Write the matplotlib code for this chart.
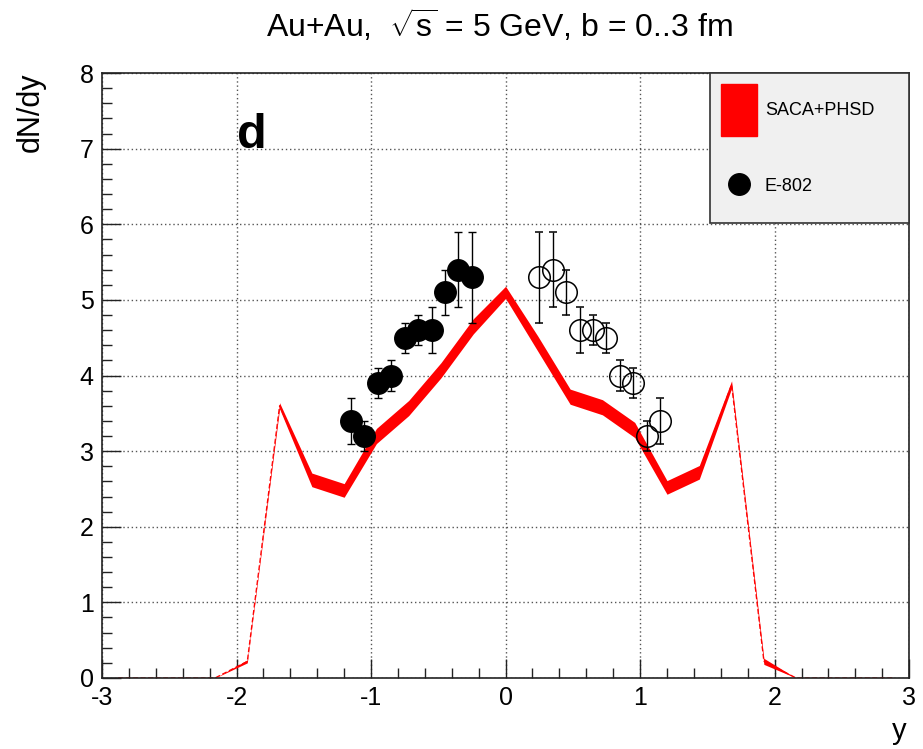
import matplotlib.pyplot as plt
from matplotlib.patches import Patch
from matplotlib.lines import Line2D
from matplotlib.legend_handler import HandlerLine2D
from matplotlib.ticker import MultipleLocator
import numpy as np

plt.rcParams['font.family'] = ['Liberation Sans', 'DejaVu Sans']
plt.rcParams['mathtext.fontset'] = 'custom'
plt.rcParams['mathtext.rm'] = 'Liberation Sans'
plt.rcParams['mathtext.it'] = 'Liberation Sans'
plt.rcParams['axes.unicode_minus'] = False

# SACA+PHSD band (centre and half width)
band_y = [-2.88, -2.64, -2.40, -2.16, -1.92, -1.68, -1.44, -1.20, -0.96, -0.72, -0.48, -0.24, 0.0,
          0.24, 0.48, 0.72, 0.96, 1.20, 1.44, 1.68, 1.92, 2.16, 2.40, 2.64, 2.88]
band_mid = [0, 0, 0, 0, 0.22, 3.60, 2.62, 2.48, 3.20, 3.57, 4.07, 4.65, 5.10,
            4.42, 3.72, 3.58, 3.28, 2.52, 2.72, 3.88, 0.22, 0, 0, 0, 0]
band_half = [0, 0, 0, 0, 0.02, 0.04, 0.09, 0.09, 0.10, 0.10, 0.10, 0.10, 0.08,
             0.10, 0.10, 0.10, 0.10, 0.09, 0.09, 0.05, 0.04, 0, 0, 0, 0]

# E-802 data (measured, y<0) and reflected (y>0)
e802_y = [-1.15, -1.05, -0.95, -0.85, -0.75, -0.65, -0.55, -0.45, -0.35, -0.25]
e802_dndy = [3.4, 3.2, 3.9, 4.0, 4.5, 4.6, 4.6, 5.1, 5.4, 5.3]
e802_err = [0.3, 0.2, 0.2, 0.2, 0.2, 0.2, 0.3, 0.3, 0.5, 0.6]

refl_y = [0.25, 0.35, 0.45, 0.55, 0.65, 0.75, 0.85, 0.95, 1.05, 1.15]
refl_dndy = [5.3, 5.4, 5.1, 4.6, 4.6, 4.5, 4.0, 3.9, 3.2, 3.4]
refl_err = [0.6, 0.5, 0.3, 0.3, 0.2, 0.2, 0.2, 0.2, 0.2, 0.3]


class CentredMarker(HandlerLine2D):
    # put the legend marker at the middle of its box, like the red patch
    def create_artists(self, legend, orig_handle, xdescent, ydescent, width, height, fontsize, trans):
        arts = super().create_artists(legend, orig_handle, xdescent, ydescent, width, height, fontsize, trans)
        for a in arts:
            a.set_ydata(np.full(len(a.get_ydata()), height / 2 - ydescent + 1.5))
        return arts


fig = plt.figure(figsize=(9.23, 7.49), dpi=100)
ax = fig.add_axes([0.1105, 0.0948, 0.8745, 0.8077])

mid = np.array(band_mid)
half = np.array(band_half)
ax.fill_between(band_y, mid - half, mid + half, color='red', lw=0, zorder=2)
ax.plot(band_y, mid, color='red', lw=0.9, ls=(0, (4, 2)), zorder=2)

ax.errorbar(e802_y, e802_dndy, yerr=e802_err, fmt='o', color='black', ms=15.5,
            elinewidth=1, capsize=3, capthick=1, zorder=3)
ax.errorbar(refl_y, refl_dndy, yerr=refl_err, fmt='o', color='black', mfc='none', ms=15.5,
            mew=1.1, elinewidth=1, capsize=3, capthick=1, zorder=3)

ax.set_xlim(-3, 3)
ax.set_ylim(0, 8)
ax.xaxis.set_major_locator(MultipleLocator(1))
ax.xaxis.set_minor_locator(MultipleLocator(0.2))
ax.yaxis.set_major_locator(MultipleLocator(1))
ax.yaxis.set_minor_locator(MultipleLocator(0.2))
ax.tick_params(which='both', direction='in', top=False, right=False, labelsize=18, color='#222222')
ax.tick_params(which='major', length=14, width=1, pad=6)
ax.tick_params(which='minor', length=7, width=1)
ax.grid(which='major', color='#555555', ls=(0, (1, 2)), lw=1)
for s in ax.spines.values():
    s.set_color('#222222')
    s.set_linewidth(1.2)

fig.text(0.541, 0.966, r'Au+Au,  $\sqrt{s}$ = 5 GeV, b = 0..3 fm', ha='center', va='center', fontsize=23)
fig.text(0.033, 0.903, 'dN/dy', rotation=90, ha='center', va='top', fontsize=22)
fig.text(0.982, 0.006, 'y', ha='right', va='bottom', fontsize=21)
ax.text(0.167, 0.876, 'd', transform=ax.transAxes, fontsize=35, fontweight='bold', ha='left', va='baseline')

handles = [Patch(facecolor='red', edgecolor='red'),
           Line2D([], [], marker='o', color='black', ls='none', ms=15.5)]
leg = ax.legend(handles, ['SACA+PHSD', 'E-802'], loc='upper left',
                bbox_to_anchor=(0.753, 0.749, 0.247, 0.251), mode='expand', borderaxespad=0,
                fontsize=13, handlelength=2.0, handleheight=4.05, handletextpad=0.45,
                labelspacing=1.33, borderpad=0.6, fancybox=False, framealpha=1,
                handler_map={Line2D: CentredMarker()})
leg.get_frame().set_facecolor('#f0f0f0')
leg.get_frame().set_edgecolor('#333333')
leg.get_frame().set_linewidth(1.2)

fig.savefig('out.png', dpi=100)
